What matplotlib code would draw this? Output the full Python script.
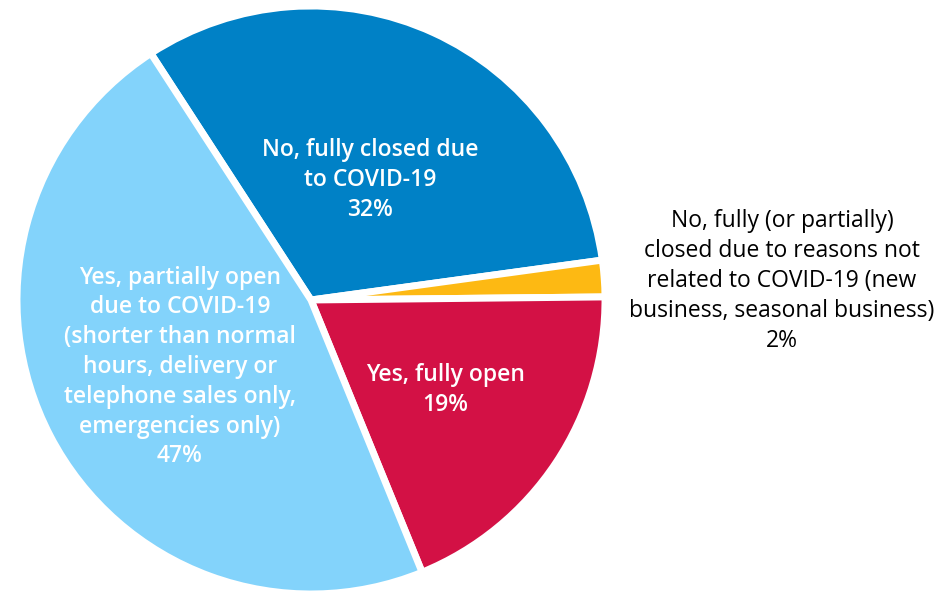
import matplotlib.pyplot as plt

plt.rcParams['font.family'] = ['Open Sans', 'DejaVu Sans']

labels = [
    "No, fully closed due\nto COVID-19",
    "No, fully (or partially)\nclosed due to reasons not\nrelated to COVID-19 (new\nbusiness, seasonal business)",
    "Yes, fully open",
    "Yes, partially open\ndue to COVID-19\n(shorter than normal\nhours, delivery or\ntelephone sales only,\nemergencies only)",
]
shares = [32, 2, 19, 47]
colors = ['#0081C6', '#FDB913', '#D31145', '#83D3FB']

fig = plt.figure(figsize=(9.42, 5.94), dpi=100)
ax = fig.add_axes([0, 0, 1, 1])

cx, cy, r = 311, 594 - 300, 294
ax.pie(shares, colors=colors, startangle=123, counterclock=False,
       center=(cx, cy), radius=r, frame=True,
       wedgeprops=dict(edgecolor='white', linewidth=5))
ax.set_xlim(0, 942)
ax.set_ylim(0, 594)
ax.set_aspect('equal')
ax.axis('off')

# label positions in pixel coords (x, y from top)
pos = [(370, 180), (782, 281), (445, 390), (180, 367)]
for i, (lab, s) in enumerate(zip(labels, shares)):
    x, y = pos[i]
    col = 'black' if i == 1 else 'white'
    wt = 'normal' if i == 1 else 'semibold'
    ax.text(x, 594 - y, f"{lab}\n{s}%", ha='center', va='center',
            fontsize=16.5, color=col, fontweight=wt, linespacing=1.32)

fig.savefig('out.png', dpi=100)
